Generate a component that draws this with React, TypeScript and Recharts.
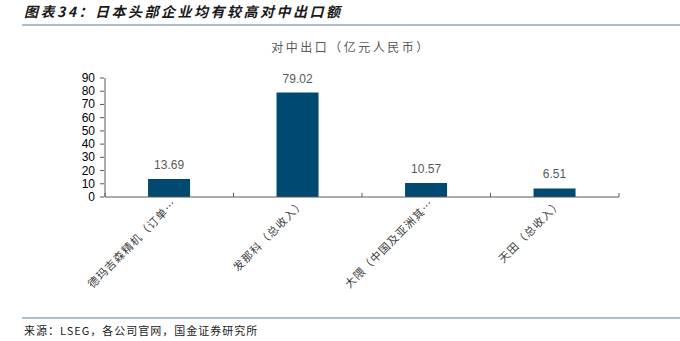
import React from "react";
import { BarChart, Bar, XAxis, YAxis, LabelList } from "recharts";

const categories = [
  "德玛吉森精机（订单…",
  "发那科（总收入）",
  "大隈（中国及亚洲其…",
  "天田（总收入）",
];
const exportsToChina = [13.69, 79.02, 10.57, 6.51];
const yTicks = [0, 10, 20, 30, 40, 50, 60, 70, 80, 90];

const data = categories.map((name, i) => ({ name, value: exportsToChina[i] }));

const W = 680;
const H = 341;
const M = { top: 78, right: 61, bottom: 44, left: 75 };
const Y_W = 30;
const plotW = W - M.left - M.right - Y_W;
const halfBand = plotW / categories.length / 2;

const CJK = '"Noto Sans CJK SC", "Noto Sans", sans-serif';
const LAT = '"Liberation Sans", Arial, sans-serif';

const XTick = (props: any) => {
  const { x, y, payload, index } = props;
  const axisY = y - 8;
  const ax = x + 8;
  const ay = y - 1;
  return (
    <g>
      <line x1={x + halfBand} x2={x + halfBand} y1={axisY} y2={axisY - 4} stroke="#595959" />
      {index === 0 && (
        <line x1={x - halfBand} x2={x - halfBand} y1={axisY} y2={axisY - 4} stroke="#595959" />
      )}
      <text
        x={ax}
        y={ay}
        transform={`rotate(-45 ${ax} ${ay})`}
        textAnchor="end"
        fontSize={11}
        fill="#404040"
        fontFamily={CJK}
        letterSpacing={1}
      >
        {payload.value}
      </text>
    </g>
  );
};

const YTick = (props: any) => {
  const { x, y, payload } = props;
  return (
    <g>
      <line x1={x + 3} x2={x + 7} y1={y} y2={y} stroke="#595959" />
      <text x={x - 2} y={y + 4} textAnchor="end" fontSize={12} fill="#000" fontFamily={LAT}>
        {payload.value}
      </text>
    </g>
  );
};

export default function App() {
  return (
    <div style={{ position: "absolute", left: 0, top: 0, width: W, height: H, background: "#fff" }}>
      <div
        style={{
          position: "absolute",
          left: 24,
          top: 1,
          fontSize: 14,
          fontWeight: "bold",
          fontStyle: "italic",
          fontFamily: CJK,
          color: "#1a1a1a",
          letterSpacing: 2.5,
          whiteSpace: "nowrap",
        }}
      >
        图表34：日本头部企业均有较高对中出口额
      </div>
      <div style={{ position: "absolute", left: 22, top: 24, width: 658, height: 1.5, background: "#a9bfd0" }} />
      <div
        style={{
          position: "absolute",
          left: 0,
          width: W,
          top: 38,
          textAlign: "center",
          fontSize: 12,
          fontFamily: CJK,
          color: "#595959",
          letterSpacing: 2.5,
          whiteSpace: "nowrap",
          paddingLeft: 22,
          boxSizing: "border-box",
        }}
      >
        对中出口（亿元人民币）
      </div>
      <BarChart width={W} height={H} data={data} margin={M} barCategoryGap="33.5%">
        <XAxis
          dataKey="name"
          interval={0}
          tickLine={false}
          axisLine={{ stroke: "#595959" }}
          tick={<XTick />}
          height={100}
        />
        <YAxis
          domain={[0, 90]}
          ticks={yTicks}
          interval={0}
          width={Y_W}
          tickLine={false}
          axisLine={{ stroke: "#595959" }}
          tick={<YTick />}
        />
        <Bar dataKey="value" fill="#004A72" isAnimationActive={false}>
          <LabelList
            dataKey="value"
            position="top"
            offset={10}
            fill="#595959"
            fontSize={12}
            fontFamily={LAT}
          />
        </Bar>
      </BarChart>
      <div style={{ position: "absolute", left: 22, top: 317, width: 658, height: 1.5, background: "#a9bfd0" }} />
      <div
        style={{
          position: "absolute",
          left: 24,
          top: 322,
          fontSize: 11,
          fontFamily: CJK,
          color: "#1a1a1a",
          letterSpacing: 1,
          whiteSpace: "nowrap",
        }}
      >
        来源：LSEG，各公司官网，国金证券研究所
      </div>
    </div>
  );
}
